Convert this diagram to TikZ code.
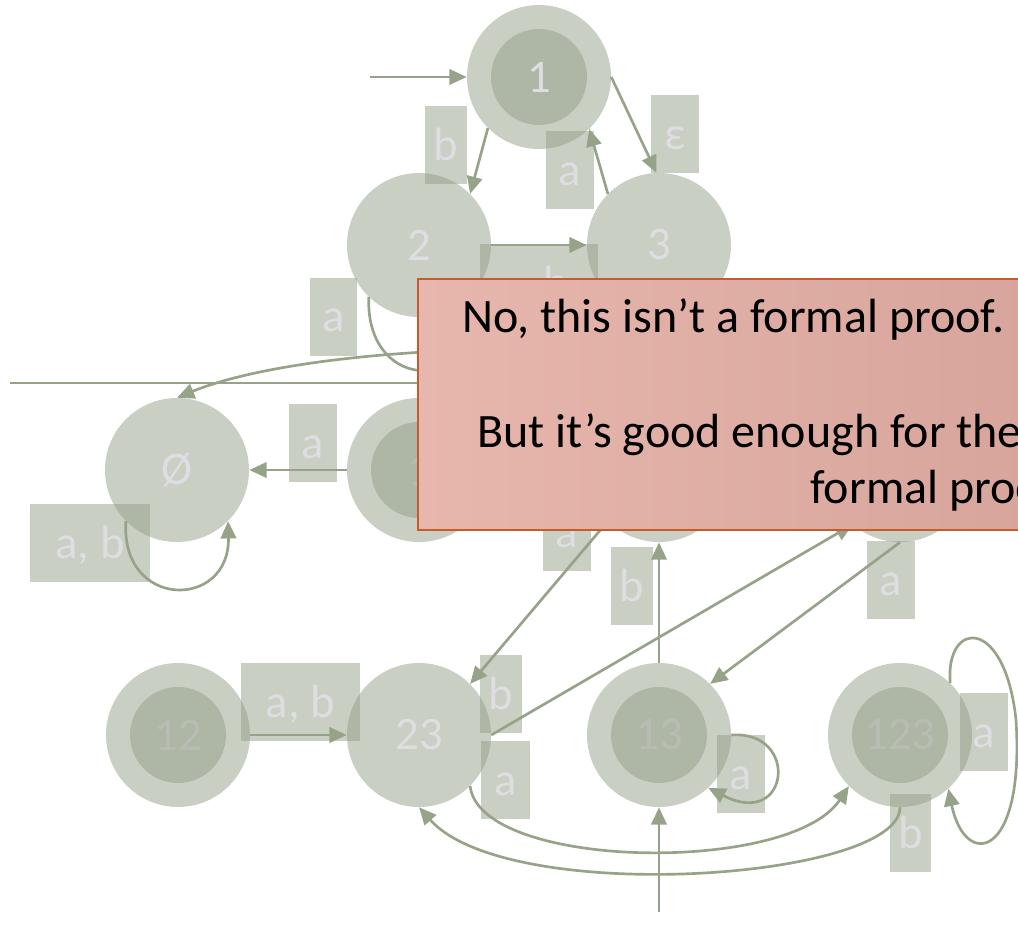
\documentclass[tikz,border=0pt]{standalone}
\usepackage{fontspec}
\setmainfont{Carlito}
\usetikzlibrary{arrows.meta}
\definecolor{sage}{RGB}{148,159,136}
\definecolor{edgec}{RGB}{150,163,136}
\definecolor{pale}{RGB}{222,221,225}
\definecolor{noteL}{RGB}{231,182,172}
\definecolor{noteR}{RGB}{213,163,153}
\definecolor{noteB}{RGB}{197,92,44}
\tikzset{
  big/.style={font=\fontsize{35}{42}\selectfont},
  remark/.style={font=\fontsize{36}{43}\selectfont},
  state/.style={circle, fill=sage, fill opacity=0.5, text opacity=1, text=pale,
    minimum size=108pt, inner sep=0pt, big},
  core/.style={circle, fill=sage, fill opacity=0.5, minimum size=72pt, inner sep=0pt},
  nlabel/.style={text=pale, big, inner sep=0pt},
  lbox/.style={rectangle, fill=sage, fill opacity=0.5, text opacity=1, text=pale,
    inner sep=0pt, minimum height=58.5pt, text height=22.5pt, text depth=0pt, big},
  edge/.style={draw=edgec, line width=2pt, -{Triangle[length=13pt,width=11.5pt]}},
  plain/.style={draw=edgec, line width=2pt},
  note/.style={rectangle, draw=noteB, line width=1.5pt, left color=noteL, right color=noteR,
    minimum width=512pt, minimum height=188pt, inner sep=0pt},
  notetext/.style={text=black, remark, inner sep=0pt},
}
\begin{document}
\begin{tikzpicture}[x=0.75pt, y=-0.75pt]
\useasboundingbox (0,0) rectangle (1018,925);
\clip (0,0) rectangle (1018,925);

% NFA states
\node[state] (n1) at (539,77) {};
\node[core] (n1i) at (n1) {};
\node[nlabel] (n1t) at (n1) {1};
\node[state] (n2) at (419,245) {2};
\node[state] (n3) at (659,245) {3};

% DFA states, middle row
\node[state] (e) at (177,470) {Ø};
\node[state] (m1) at (419,470) {1};
\node[core] (m1i) at (m1) {};
\node[state] (m2) at (659,470) {};
\node[state] (m3) at (900,470) {};

% DFA states, bottom row
\node[state] (b12) at (178,735) {12};
\node[core] (b12i) at (b12) {};
\node[state] (b23) at (419,735) {23};
\node[state] (b13) at (659,735) {13};
\node[core] (b13i) at (b13) {};
\node[state] (b123) at (900,735) {123};
\node[core] (b123i) at (b123) {};

% transition labels
\node[lbox, minimum width=31.5pt] (l1) at (446,145) {b};
\node[lbox, minimum width=36pt] (l2) at (570,170) {a};
\node[lbox, minimum width=36pt] (l3) at (675,134) {ε};
\node[lbox, minimum width=88.5pt] (l4) at (539,283) {\hspace*{25pt}b};
\node[lbox, minimum width=35.25pt] (l5) at (333.5,316.5) {a};
\node[lbox, minimum width=36pt] (l6) at (313,443) {a};
\node[lbox, minimum width=90pt] (l7) at (90,543) {a, b};
\node[lbox, minimum width=36pt] (l8) at (567,532) {a};
\node[lbox, minimum width=31.5pt] (l9) at (632,586) {b};
\node[lbox, minimum width=36pt] (l10) at (891,580) {a};
\node[lbox, minimum width=89.25pt] (l11) at (300.5,702) {a, b};
\node[lbox, minimum width=31.5pt] (l12) at (501,694) {b};
\node[lbox, minimum width=36.75pt] (l13) at (505.5,780) {a};
\node[lbox, minimum width=36pt] (l14) at (741,774) {a};
\node[lbox, minimum width=36pt] (l15) at (984,732) {a};
\node[lbox, minimum width=30.75pt] (l16) at (910.5,833) {b};

% NFA transitions
\coordinate (s1) at (370,77);
\draw[edge] (s1) -- (n1.180);
\draw[edge] (n1.225) -- (n2.45);
\draw[edge] (n1.0) -- (n3.92);
\draw[edge] (n3.135) -- (n1.314);
\draw[edge] (n2.0) -- (n3.180);
\draw[edge] (n2.226) .. controls (365,390) and (470,390) .. (n2.300);

% rule under the NFA
\coordinate (h0) at (10,383);
\coordinate (h1) at (640,383);
\draw[plain] (h0) -- (h1);

% DFA transitions
\draw[edge] (m3.120) .. controls (760,330) and (330,335) .. (e.90);
\draw[edge] (m1.180) -- (e.0);
\draw[edge] (e.225) .. controls (120,610) and (230,610) .. (e.315);
\draw[edge] (m2.225) -- (b23.45);
\draw[edge] (b13.90) -- (m2.270);
\coordinate (s13) at (659,912);
\draw[edge] (s13) -- (b13.270);
\draw[edge] (b23.0) -- (m3.229);
\draw[edge] (m3.270) -- (b13.45);
\draw[edge] (b12.0) -- (b23.180);
\draw[edge] (b23.315) .. controls (480,870) and (790,875) .. (b123.225);
\draw[edge] (b123.270) .. controls (900,880) and (508,907) .. (b23.270);
\draw[edge] (b13.0) .. controls (800,730) and (790,830) .. (b13.313);
\draw[edge] (b123.46) .. controls (945,620) and (1005,615) .. (1016,720)
  .. controls (1025,860) and (965,870) .. (b123.312);

% remark box
\node[note, anchor=north west] (note) at (417,278) {};
\node[notetext, anchor=base west] (t1) at (462,332) {No, this isn’t a formal proof.};
\node[notetext, anchor=base west] (t2) at (477,447) {But it’s good enough for the};
\node[notetext, anchor=base west] (t3) at (810,503) {formal proof.};
\end{tikzpicture}
\end{document}
